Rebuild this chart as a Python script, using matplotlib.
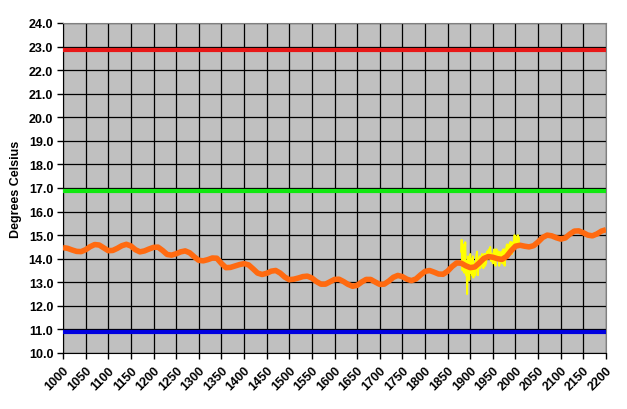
import matplotlib
matplotlib.use('Agg')
import matplotlib.pyplot as plt

# reference levels (Degrees Celsius)
red_level = 22.87
green_level = 16.88
blue_level = 10.9

# smoothed long-term curve, every 10 years from 1000 to 2200
curve_years = list(range(1000, 2201, 10))
curve_temps = [
    14.47, 14.44, 14.37, 14.31, 14.30, 14.38, 14.51, 14.60, 14.58, 14.46,  # 1000-1090
    14.34, 14.35, 14.44, 14.55, 14.61, 14.54, 14.38, 14.29, 14.33, 14.41,  # 1100-1190
    14.48, 14.49, 14.35, 14.18, 14.15, 14.21, 14.29, 14.33, 14.25, 14.08,  # 1200-1290
    13.93, 13.91, 13.96, 14.03, 14.02, 13.80, 13.62, 13.63, 13.69, 13.75,  # 1300-1390
    13.79, 13.74, 13.57, 13.39, 13.33, 13.38, 13.47, 13.50, 13.39, 13.22,  # 1400-1490
    13.11, 13.13, 13.18, 13.24, 13.26, 13.18, 13.03, 12.92, 12.92, 13.02,  # 1500-1590
    13.12, 13.13, 13.03, 12.91, 12.83, 12.87, 13.01, 13.12, 13.12, 13.01,  # 1600-1690
    12.91, 12.92, 13.05, 13.21, 13.29, 13.24, 13.13, 13.07, 13.14, 13.31,  # 1700-1790
    13.46, 13.50, 13.43, 13.35, 13.34, 13.47, 13.67, 13.82, 13.81, 13.70,  # 1800-1890
    13.62, 13.65, 13.82, 14.01, 14.09, 14.06, 14.00, 13.97, 14.09, 14.33,  # 1900-1990
    14.53, 14.57, 14.53, 14.50, 14.55, 14.71, 14.90, 15.00, 14.97, 14.89,  # 2000-2090
    14.83, 14.88, 15.04, 15.17, 15.18, 15.10, 15.00, 14.97, 15.05, 15.17,  # 2100-2190
    15.23,                                                                 # 2200
]

# measured annual values, 1880 to 2008
obs_years = list(range(1880, 2009))
obs_temps = [
    14.3, 14.8, 13.9, 13.5, 14.0, 14.6, 13.6, 13.4, 14.3, 14.7,
    13.8, 13.3, 13.9, 12.5, 13.2, 14.1, 13.5, 14.0, 13.1, 13.9,
    14.2, 13.6, 13.4, 14.0, 13.3, 13.9, 14.1, 13.2, 13.7, 13.4,
    13.8, 13.3, 13.9, 14.0, 14.2, 14.3, 13.5, 13.3, 13.8, 14.0,
    13.7, 14.1, 13.6, 14.0, 13.7, 14.1, 14.2, 13.8, 14.1, 13.6,
    14.1, 14.2, 13.9, 13.7, 14.2, 13.8, 14.1, 14.3, 14.3, 14.0,
    14.3, 14.4, 14.1, 14.0, 14.5, 14.3, 13.9, 14.2, 14.0, 13.9,
    13.8, 14.2, 14.3, 14.4, 13.9, 13.8, 13.7, 14.3, 14.4, 14.0,
    14.2, 14.3, 14.0, 14.3, 13.7, 13.8, 14.1, 14.2, 13.9, 14.3,
    14.2, 13.8, 14.0, 14.4, 13.8, 14.0, 13.7, 14.4, 14.2, 14.4,
    14.5, 14.6, 14.1, 14.6, 14.1, 14.2, 14.3, 14.6, 14.7, 14.3,
    14.7, 14.7, 14.2, 14.3, 14.5, 14.7, 14.4, 14.8, 15.0, 14.5,
    14.5, 14.8, 14.9, 14.9, 14.7, 15.0, 14.8, 14.9, 14.6,
]

x_ticks = list(range(1000, 2201, 50))
y_ticks = [v for v in range(10, 25)]

fig = plt.figure(figsize=(6.27, 4.10), dpi=100)
ax = fig.add_axes([0.1005, 0.1366, 0.866, 0.805])
ax.set_facecolor('#C0C0C0')

bold = {'family': 'Liberation Sans', 'weight': 'bold', 'size': 9}

ax.set_xlim(1000, 2200)
ax.set_ylim(10, 24)
ax.set_xticks(x_ticks)
ax.set_yticks(y_ticks)
ax.set_xticklabels([str(x) for x in x_ticks], fontdict=bold,
                   rotation=45, ha='right', va='top', rotation_mode='anchor')
ax.set_yticklabels(['%.1f' % y for y in y_ticks], fontdict=bold)
ax.tick_params(axis='both', direction='out', length=4, width=1, color='black', pad=3)
ax.tick_params(axis='x', pad=4)

ax.grid(True, color='black', linewidth=0.9)
ax.set_axisbelow(True)
for side in ['top', 'right']:
    ax.spines[side].set_color('#808080')
for side in ['left', 'bottom']:
    ax.spines[side].set_color('black')

ax.axhline(red_level, color='#E81818', linewidth=3, zorder=3)
ax.axhline(green_level, color='#10E810', linewidth=3, zorder=3)
ax.axhline(blue_level, color='#0000E0', linewidth=3, zorder=3)

ax.plot(obs_years, obs_temps, color='#FFFF00', linewidth=1.4, zorder=4)
ax.plot(curve_years, curve_temps, color='#FF6A10', linewidth=4, zorder=5,
        solid_capstyle='butt')

ax.set_ylabel('Degrees Celsius', fontdict=bold, labelpad=5)

fig.savefig('out.png', dpi=100)
